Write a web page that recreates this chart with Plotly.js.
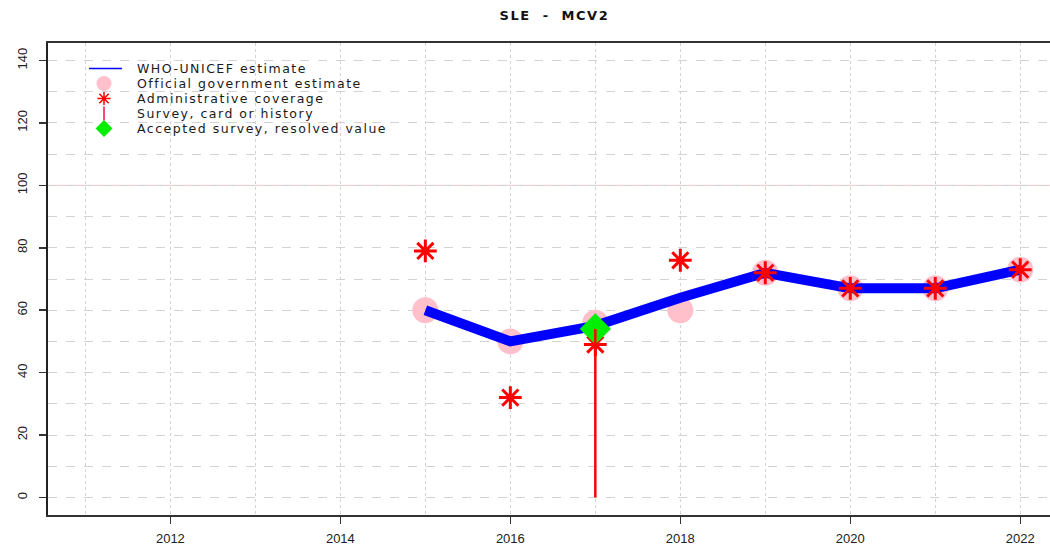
<!DOCTYPE html>
<html>
<head>
<meta charset="utf-8">
<script src="https://cdn.plot.ly/plotly-3.0.1.min.js"></script>
<style>
html,body{margin:0;padding:0;background:#fff;}
#chart{width:1050px;height:548px;}
.annotation-text{letter-spacing:1.5px;}
.gtitle{letter-spacing:1.5px;}
</style>
</head>
<body>
<div id="chart"></div>
<script>
const years = [2015, 2016, 2017, 2018, 2019, 2020, 2021, 2022];
const wuenic = [60, 50, 55, 64, 72, 67, 67, 73];
const official = [60, 50, 56, 60, 72, 67, 67, 73];
const admin = [79, 32, 49, 76, 72, 67, 67, 73];
const surveyYears = [2017];
const surveyValues = [54];
const acceptedYears = [2017];
const acceptedValues = [54];
const xTicks = [2012, 2014, 2016, 2018, 2020, 2022];
const yTicks = [0, 20, 40, 60, 80, 100, 120, 140];
const legendLabels = ['WHO-UNICEF estimate', 'Official government estimate', 'Administrative coverage', 'Survey, card or history', 'Accepted survey, resolved value'];

const font = "Liberation Sans, Arial, sans-serif";
const legFont = "DejaVu Sans, sans-serif";

const surveyX = [], surveyY = [];
surveyYears.forEach((yr, i) => { surveyX.push(yr, yr, null); surveyY.push(0, surveyValues[i], null); });

// legend layout (fractions of the plot area)
const legSymX = 0.0559, legTextX = 0.0878;
const legY = [0.946, 0.9142, 0.8824, 0.8506, 0.8189];

const traces = [
  {x: years, y: official, mode: 'markers', name: legendLabels[1], marker: {color: '#ffc0cb', size: 26, symbol: 'circle'}},
  {x: years, y: wuenic, mode: 'lines', name: legendLabels[0], line: {color: 'blue', width: 10}},
  {x: years, y: admin, mode: 'markers', name: legendLabels[2], marker: {symbol: 'asterisk-open', size: 19, color: 'red', line: {color: 'red', width: 3}}},
  {x: acceptedYears, y: acceptedValues, mode: 'markers', name: legendLabels[4], marker: {symbol: 'diamond', size: 24, color: '#00ee00'}},
  {x: surveyX, y: surveyY, mode: 'lines', name: legendLabels[3], line: {color: 'red', width: 2.5}},
  // legend keys
  {x: [0.0409, 0.0739], y: [legY[0], legY[0]], xaxis: 'x2', yaxis: 'y2', mode: 'lines', line: {color: 'blue', width: 1.5}},
  {x: [legSymX], y: [legY[1]], xaxis: 'x2', yaxis: 'y2', mode: 'markers', marker: {color: '#ffc0cb', size: 15, symbol: 'circle'}},
  {x: [legSymX], y: [legY[2]], xaxis: 'x2', yaxis: 'y2', mode: 'markers', marker: {symbol: 'asterisk-open', size: 11, color: 'red', line: {color: 'red', width: 1.5}}},
  {x: [legSymX], y: [legY[3]], xaxis: 'x2', yaxis: 'y2', mode: 'markers', marker: {symbol: 'line-ns-open', size: 10, color: '#ff3366', line: {color: '#ff3366', width: 1.8}}},
  {x: [legSymX], y: [legY[4]], xaxis: 'x2', yaxis: 'y2', mode: 'markers', marker: {symbol: 'diamond', size: 13, color: '#00ee00'}}
];

const annotations = legendLabels.map((t, i) => ({
  text: t, xref: 'paper', yref: 'paper', x: legTextX, y: legY[i], xanchor: 'left', yanchor: 'middle',
  showarrow: false, borderpad: 0, font: {family: legFont, size: 12.5, color: '#1a1a1a'}
}));

const layout = {
  width: 1050, height: 548,
  margin: {l: 48, r: 0, t: 43, b: 33},
  paper_bgcolor: '#fff', plot_bgcolor: '#fff',
  font: {family: font, size: 13, color: '#222'},
  title: {text: '<b>SLE&nbsp;&nbsp;-&nbsp;&nbsp;MCV2</b>', font: {family: legFont, size: 13, color: '#111'}, x: 0.528, xanchor: 'center', y: 0.972, yanchor: 'middle'},
  showlegend: false,
  annotations: annotations,
  xaxis: {
    range: [2010.56, 2022.35], tickvals: xTicks, ticktext: xTicks.map(String),
    ticks: 'outside', ticklen: 7, tickcolor: '#333', tickwidth: 1.5, ticklabelstandoff: 3,
    showgrid: false, zeroline: false,
    showline: true, linecolor: '#333', linewidth: 2, mirror: true,
    tickfont: {family: font, size: 13, color: '#222'},
    minor: {dtick: 1, tick0: 2011, showgrid: true, gridcolor: '#d3d3d3', griddash: 'dot', gridwidth: 1, ticks: ''}
  },
  yaxis: {
    range: [-5.6, 145.6], tickvals: yTicks, ticktext: yTicks.map(String), tickangle: -90,
    ticks: 'outside', ticklen: 7, tickcolor: '#333', tickwidth: 1.5, ticklabelstandoff: 7,
    showgrid: false, zeroline: false,
    showline: true, linecolor: '#222', linewidth: 2, mirror: true,
    tickfont: {family: font, size: 13, color: '#222'},
    minor: {dtick: 10, tick0: 0, showgrid: true, gridcolor: '#d3d3d3', griddash: 'dash', gridwidth: 1, ticks: ''}
  },
  xaxis2: {overlaying: 'x', range: [0, 1], visible: false, fixedrange: true},
  yaxis2: {overlaying: 'y', range: [0, 1], visible: false, fixedrange: true},
  shapes: [{type: 'line', xref: 'paper', x0: 0, x1: 1, yref: 'y', y0: 100, y1: 100, line: {color: '#f0c8cc', width: 1}, layer: 'below'}]
};

Plotly.newPlot('chart', traces, layout, {displayModeBar: false, staticPlot: true});
</script>
</body>
</html>
